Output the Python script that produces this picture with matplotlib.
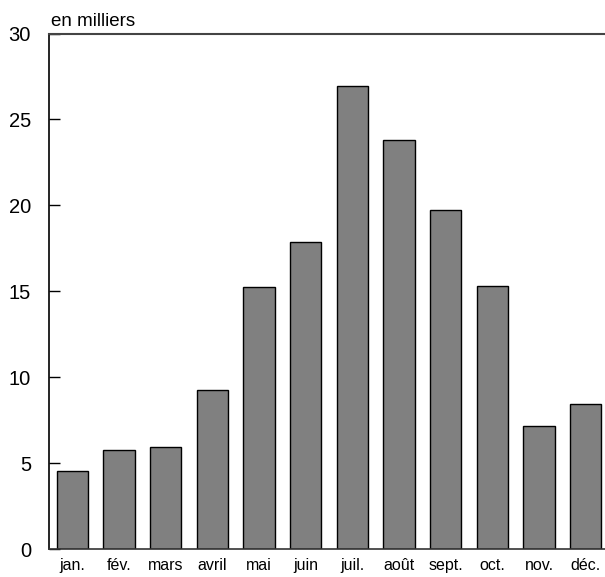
import matplotlib
matplotlib.use("Agg")
import matplotlib.pyplot as plt

months = ["jan.", "fév.", "mars", "avril", "mai", "juin", "juil.", "août", "sept.", "oct.", "nov.", "déc."]
values = [4.56, 5.80, 5.97, 9.27, 15.28, 17.88, 26.93, 23.81, 19.71, 15.33, 7.19, 8.44]
yticks = [0, 5, 10, 15, 20, 25, 30]

plt.rcParams['font.family'] = ['Liberation Sans', 'DejaVu Sans']

W, H = 605, 577
fig = plt.figure(figsize=(W / 100, H / 100), dpi=100)
left, right, top, bottom = 49, 609, 33.5, 549.3
ax = fig.add_axes([left / W, (H - bottom) / H, (right - left) / W, (bottom - top) / H])

x = list(range(len(months)))
ax.bar(x, values, width=0.67, color="#808080", edgecolor="black", linewidth=1.0)

ax.set_xlim(-0.5, 11.5)
ax.set_ylim(0, 30)
ax.set_yticks(yticks)
ax.set_yticklabels([str(t) for t in yticks], fontsize=14.5)
ax.set_xticks(x)
ax.set_xticklabels(months, fontsize=11.5)
ax.tick_params(axis='y', direction='in', length=8, width=1, pad=13)
ax.tick_params(axis='x', length=0, pad=6.5)

ax.spines['right'].set_visible(False)
ax.spines['top'].set_color('#444444')
ax.spines['top'].set_linewidth(1.5)
for s in ['left', 'bottom']:
    ax.spines[s].set_color('black')
    ax.spines[s].set_linewidth(1.2)
ax.spines['bottom'].set_color('#333333')

fig.text(51 / W, 1 - 21 / H, "en milliers", fontsize=13.5, ha='left', va='center')

fig.savefig("out.png", dpi=100)
